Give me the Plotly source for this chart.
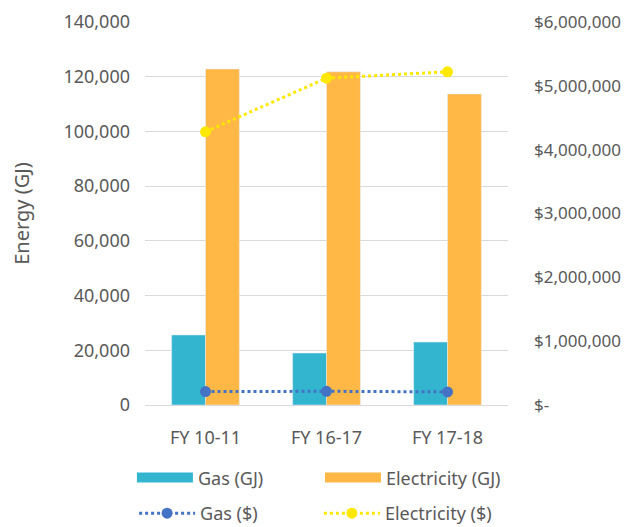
import plotly.graph_objects as go

categories = ["FY 10-11", "FY 16-17", "FY 17-18"]
gas_gj = [25600, 19000, 23000]
elec_gj = [122800, 121800, 113700]
gas_cost = [210000, 215000, 205000]
elec_cost = [4280000, 5120000, 5220000]

left_ticks = [0, 20000, 40000, 60000, 80000, 100000, 120000, 140000]
right_ticks = [0, 1000000, 2000000, 3000000, 4000000, 5000000, 6000000]
right_labels = ["$-", "$1,000,000", "$2,000,000", "$3,000,000", "$4,000,000", "$5,000,000", "$6,000,000"]

FONT = "Noto Sans"
TXT = "#595959"
FS = 18
GAS_C = "#33B5D0"
ELEC_C = "#FFB845"
GAS_L = "#4472C4"
ELEC_L = "#FFE800"

fig = go.Figure()
fig.add_trace(go.Bar(x=categories, y=gas_gj, name="Gas (GJ)", marker_color=GAS_C,
                     showlegend=False))
fig.add_trace(go.Bar(x=categories, y=elec_gj, name="Electricity (GJ)", marker_color=ELEC_C,
                     showlegend=False))
fig.add_trace(go.Scatter(x=categories, y=gas_cost, name="Gas ($)", yaxis="y2",
                         mode="lines+markers", line=dict(color=GAS_L, width=3, dash="dot"),
                         marker=dict(size=11, color=GAS_L), legend="legend3"))
fig.add_trace(go.Scatter(x=categories, y=elec_cost, name="Electricity ($)", yaxis="y2",
                         mode="lines+markers", line=dict(color=ELEC_L, width=3, dash="dot"),
                         marker=dict(size=11, color=ELEC_L), legend="legend4"))
# legend swatches for the bar series (wide rectangles, as in the reference)
fig.add_trace(go.Scatter(x=[None], y=[None], name="Gas (GJ)", mode="lines",
                         line=dict(color=GAS_C, width=14), legend="legend"))
fig.add_trace(go.Scatter(x=[None], y=[None], name="Electricity (GJ)", mode="lines",
                         line=dict(color=ELEC_C, width=14), legend="legend2"))

leg_common = dict(orientation="h", xanchor="left", yanchor="top",
                  font=dict(size=FS, color=TXT), itemwidth=56, bgcolor="rgba(0,0,0,0)")

fig.update_layout(
    width=632, height=527,
    margin=dict(l=145, r=124, t=22, b=122, autoexpand=False),
    plot_bgcolor="white", paper_bgcolor="white",
    font=dict(family=FONT, size=FS, color=TXT),
    barmode="group", bargap=0.44, bargroupgap=0,
    xaxis=dict(showgrid=False, showline=True, linecolor="#D9D9D9", linewidth=1,
               tickfont=dict(size=FS, color=TXT), ticks="", ticklabelstandoff=16),
    yaxis=dict(range=[0, 140000], tickvals=left_ticks, tickformat=",d",
               showgrid=True, gridcolor="#D9D9D9", zeroline=False,
               title=dict(text="Energy (GJ)", font=dict(size=20, color=TXT), standoff=28),
               tickfont=dict(size=FS, color=TXT), ticklabelstandoff=14),
    yaxis2=dict(range=[0, 6000000], overlaying="y", side="right",
                tickvals=right_ticks, ticktext=right_labels, showgrid=False,
                zeroline=False, tickfont=dict(size=17, color=TXT), ticklabelstandoff=25),
    legend=dict(x=-0.036, y=-0.142, **leg_common),
    legend2=dict(x=0.482, y=-0.142, **leg_common),
    legend3=dict(x=-0.030, y=-0.235, **leg_common),
    legend4=dict(x=0.479, y=-0.235, **leg_common),
)

fig.write_html("out.html", config={"displayModeBar": False},
               post_script="document.body.style.margin='0';")
